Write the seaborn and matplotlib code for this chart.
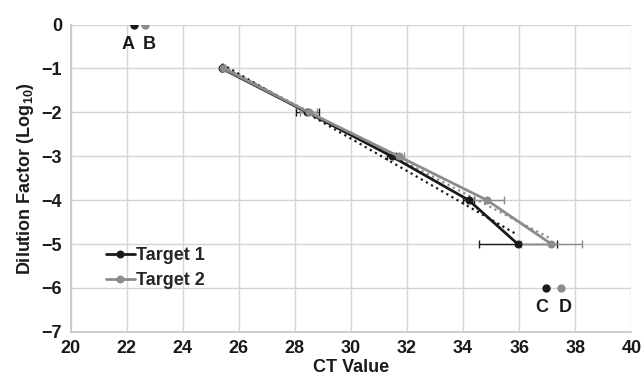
import numpy as np
import pandas as pd
import seaborn as sns
import matplotlib.pyplot as plt

# data
dilution = [-1, -2, -3, -4, -5]
t1_ct = [25.4, 28.45, 31.45, 34.2, 35.95]
t2_ct = [25.45, 28.5, 31.7, 34.85, 37.15]
t1_err = [0.05, 0.4, 0.15, 0.2, 1.4]
t2_err = [0.05, 0.3, 0.2, 0.6, 1.1]
# outlier points
out_ct = [22.25, 22.65, 36.97, 37.5]
out_dil = [0, 0, -6, -6]
out_lab = ["A", "B", "C", "D"]
out_series = ["Target 1", "Target 2", "Target 1", "Target 2"]
lab_dx = [-4, 3, -3, 3]

colors = {"Target 1": "#1a1a1a", "Target 2": "#8c8c8c"}

df = pd.concat([
    pd.DataFrame({"CT": t1_ct, "Dil": dilution, "err": t1_err, "Target": "Target 1"}),
    pd.DataFrame({"CT": t2_ct, "Dil": dilution, "err": t2_err, "Target": "Target 2"}),
])

sns.set_theme(style="whitegrid")
plt.rcParams["font.family"] = ["Liberation Sans", "DejaVu Sans"]
plt.rcParams["font.weight"] = "bold"
plt.rcParams["mathtext.fontset"] = "custom"
plt.rcParams["mathtext.bf"] = "Liberation Sans:bold"

fig, ax = plt.subplots(figsize=(6.41, 3.78), dpi=100)
fig.subplots_adjust(left=0.11, right=0.985, top=0.935, bottom=0.122)

for name, sub in df.groupby("Target"):
    c = colors[name]
    ax.errorbar(sub["CT"], sub["Dil"], xerr=sub["err"], fmt="none",
                ecolor=c, elinewidth=1, capsize=3, capthick=1, zorder=2)
    sns.regplot(data=sub, x="CT", y="Dil", ax=ax, scatter=False, ci=None,
                color=c, line_kws={"ls": ":", "lw": 1.6}, label="_nolegend_")
    sns.lineplot(data=sub, x="CT", y="Dil", ax=ax, color=c, lw=2,
                 marker="o", markersize=5, markeredgecolor=c,
                 label=name, sort=False, zorder=3)

for x, y, lab, s, dx in zip(out_ct, out_dil, out_lab, out_series, lab_dx):
    ax.plot(x, y, "o", color=colors[s], markersize=5, zorder=3)
    ax.annotate(lab, (x, y), xytext=(dx, -14), textcoords="offset points",
                ha="center", va="center", fontsize=13, fontweight="bold",
                color="#1a1a1a")

ax.set_xlim(20, 40)
ax.set_ylim(-7, 0)
ax.set_xticks(range(20, 41, 2))
ax.set_yticks(range(-7, 1))
ax.grid(True, color="#d4d4d4", lw=1)
for sp in ["top", "right"]:
    ax.spines[sp].set_visible(False)
for sp in ["left", "bottom"]:
    ax.spines[sp].set_color("#c8c8c8")
ax.tick_params(labelsize=13, colors="#1a1a1a", length=0, pad=6)
for t in ax.get_xticklabels() + ax.get_yticklabels():
    t.set_fontweight("bold")
ax.set_xlabel("CT Value", fontsize=13, fontweight="bold", color="#1a1a1a", labelpad=1)
ax.set_ylabel("Dilution Factor (Log$_{\\mathbf{10}}$)", fontsize=13,
              fontweight="bold", color="#1a1a1a", labelpad=4)

leg = ax.legend(loc="upper left", bbox_to_anchor=(0.05, 0.30), frameon=False,
                fontsize=13, handlelength=1.6, handletextpad=0.1,
                borderaxespad=0, labelspacing=0.45)
for t in leg.get_texts():
    t.set_fontweight("bold")

fig.savefig("out.png", dpi=100)
